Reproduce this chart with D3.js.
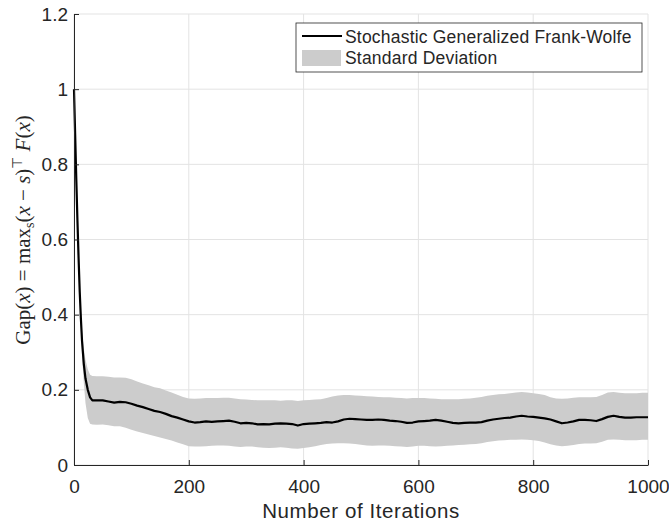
<!DOCTYPE html>
<html>
<head>
<meta charset="utf-8">
<script src="https://cdn.jsdelivr.net/npm/d3@7"></script>
<style>
  body { margin: 0; background: #fff; }
  svg { display: block; }
</style>
</head>
<body>
<svg width="669" height="525"></svg>
<script>
// iteration grid (denser at the start where the curve drops)
var iters = [0,2,4,6,8,10,12,14,17,20,24,28,32,40,50,60,70,80,90,100,
  110,120,130,140,150,160,170,180,190,200,210,220,230,240,250,260,270,280,290,300,
  310,320,330,340,350,360,370,380,390,400,410,420,430,440,450,460,470,480,490,500,
  510,520,530,540,550,560,570,580,590,600,610,620,630,640,650,660,670,680,690,700,
  710,720,730,740,750,760,770,780,790,800,810,820,830,840,850,860,870,880,890,900,
  910,920,930,940,950,960,970,980,990,1000];

var gapMean = [1.0,0.88,0.76,0.65,0.55,0.46,0.39,0.33,0.27,0.23,0.2,0.18,0.172,0.172,0.172,0.169,0.166,0.168,0.167,0.163,
  0.158,0.154,0.149,0.144,0.141,0.136,0.13,0.126,0.121,0.116,0.113,0.114,0.116,0.115,0.116,0.117,0.118,0.115,0.111,0.112,
  0.111,0.108,0.109,0.108,0.110,0.111,0.110,0.109,0.105,0.109,0.110,0.111,0.112,0.114,0.113,0.116,0.121,0.123,0.122,0.121,
  0.120,0.120,0.121,0.120,0.118,0.117,0.115,0.112,0.113,0.116,0.117,0.118,0.120,0.118,0.115,0.112,0.111,0.112,0.113,0.113,
  0.114,0.118,0.121,0.123,0.125,0.126,0.129,0.131,0.129,0.128,0.126,0.124,0.121,0.116,0.111,0.113,0.116,0.120,0.120,0.119,
  0.117,0.122,0.128,0.131,0.128,0.126,0.126,0.127,0.127,0.127];

var gapUpper = [1.0,0.885,0.77,0.665,0.57,0.48,0.42,0.36,0.31,0.28,0.255,0.24,0.237,0.236,0.236,0.235,0.233,0.233,0.232,0.228,
  0.222,0.217,0.212,0.207,0.204,0.198,0.193,0.187,0.181,0.177,0.176,0.177,0.178,0.178,0.178,0.179,0.179,0.177,0.175,0.174,
  0.173,0.172,0.172,0.172,0.172,0.171,0.172,0.172,0.170,0.172,0.173,0.174,0.175,0.178,0.182,0.185,0.186,0.186,0.185,0.184,
  0.183,0.182,0.181,0.180,0.180,0.179,0.178,0.177,0.178,0.178,0.178,0.177,0.176,0.175,0.175,0.175,0.175,0.176,0.177,0.179,
  0.181,0.184,0.186,0.188,0.189,0.191,0.193,0.194,0.193,0.191,0.189,0.186,0.180,0.177,0.176,0.177,0.179,0.180,0.180,0.180,
  0.181,0.186,0.193,0.194,0.192,0.191,0.191,0.191,0.192,0.192];

var gapLower = [1.0,0.875,0.75,0.635,0.53,0.44,0.36,0.29,0.22,0.165,0.125,0.11,0.108,0.107,0.108,0.106,0.103,0.103,0.099,0.094,
  0.089,0.085,0.081,0.077,0.073,0.069,0.065,0.06,0.055,0.05,0.049,0.049,0.05,0.051,0.052,0.052,0.051,0.049,0.048,0.049,
  0.049,0.047,0.046,0.045,0.046,0.047,0.046,0.044,0.043,0.045,0.047,0.050,0.053,0.056,0.057,0.058,0.058,0.057,0.056,0.054,
  0.052,0.051,0.052,0.052,0.051,0.050,0.049,0.048,0.049,0.051,0.051,0.050,0.049,0.050,0.051,0.052,0.053,0.054,0.055,0.056,
  0.058,0.061,0.063,0.065,0.066,0.067,0.067,0.068,0.067,0.066,0.064,0.060,0.055,0.052,0.050,0.051,0.053,0.056,0.057,0.057,
  0.058,0.062,0.067,0.068,0.067,0.066,0.066,0.066,0.067,0.067];

var xTicks = [0,200,400,600,800,1000];
var yTicks = [0,0.2,0.4,0.6,0.8,1,1.2];

var margin = {left: 74, right: 21, top: 14, bottom: 60};
var width = 669, height = 525;
var sans = "Liberation Sans, Arial, Helvetica, sans-serif";
var serif = "Liberation Serif, Times New Roman, serif";

var svg = d3.select("svg");

var x = d3.scaleLinear().domain([0,1000]).range([margin.left, width - margin.right]);
var y = d3.scaleLinear().domain([0,1.2]).range([height - margin.bottom, margin.top]);

var pts = iters.map(function(d, i) {
  return {it: d, m: gapMean[i], hi: gapUpper[i], lo: gapLower[i]};
});

// grid
var grid = svg.append("g");
grid.selectAll(".gx").data(xTicks).enter().append("line")
  .attr("x1", d => x(d)).attr("x2", d => x(d))
  .attr("y1", y(0)).attr("y2", y(1.2))
  .attr("stroke", "#e3e3e3").attr("stroke-width", 1);
grid.selectAll(".gy").data(yTicks).enter().append("line")
  .attr("y1", d => y(d)).attr("y2", d => y(d))
  .attr("x1", x(0)).attr("x2", x(1000))
  .attr("stroke", "#e3e3e3").attr("stroke-width", 1);

// std band
var band = d3.area()
  .x(d => x(d.it))
  .y0(d => y(d.lo))
  .y1(d => y(d.hi));
svg.append("path").datum(pts)
  .attr("d", band)
  .attr("fill", "#cccccc");

// mean line
var line = d3.line()
  .x(d => x(d.it))
  .y(d => y(d.m));
svg.append("path").datum(pts)
  .attr("d", line)
  .attr("fill", "none")
  .attr("stroke", "#000")
  .attr("stroke-width", 2.2)
  .attr("stroke-linejoin", "round");

// axes
var xAxis = svg.append("g")
  .attr("transform", "translate(0," + y(0) + ")")
  .call(d3.axisBottom(x).tickValues(xTicks).tickSizeInner(-5).tickSizeOuter(0).tickPadding(12).tickFormat(d3.format("d")));
var yAxis = svg.append("g")
  .attr("transform", "translate(" + x(0) + ",0)")
  .call(d3.axisLeft(y).tickValues(yTicks).tickSizeInner(-5).tickSizeOuter(0).tickPadding(6).tickFormat(d => d));

[xAxis, yAxis].forEach(function(a) {
  a.select(".domain").attr("stroke", "#262626").attr("stroke-width", 1);
  a.selectAll(".tick line").attr("stroke", "#262626");
  a.selectAll("text").attr("font-size", 19).attr("fill", "#262626")
    .attr("font-family", sans);
});
xAxis.selectAll("text").attr("dy", "0.85em");

// x label
svg.append("text")
  .attr("x", 361)
  .attr("y", 518)
  .attr("text-anchor", "middle")
  .attr("font-family", sans)
  .attr("font-size", 20.5)
  .attr("letter-spacing", 0.6)
  .attr("fill", "#262626")
  .text("Number of Iterations");

// y label (math-style)
var yl = svg.append("text")
  .attr("transform", "translate(30,230) rotate(-90)")
  .attr("text-anchor", "middle")
  .attr("font-family", serif)
  .attr("font-size", 21)
  .attr("fill", "#262626");
yl.append("tspan").text("Gap(");
yl.append("tspan").attr("font-style", "italic").text("x");
yl.append("tspan").text(") = max");
yl.append("tspan").attr("font-size", 14).attr("dy", 4).text("s");
yl.append("tspan").attr("dy", -4).text("(");
yl.append("tspan").attr("font-style", "italic").text("x");
yl.append("tspan").text(" − ");
yl.append("tspan").attr("font-style", "italic").text("s");
yl.append("tspan").text(")");
yl.append("tspan").attr("font-size", 14).attr("dy", -8).text("⊤");
yl.append("tspan").attr("dy", 8).text(" ");
yl.append("tspan").attr("font-style", "italic").text("F");
yl.append("tspan").text("(");
yl.append("tspan").attr("font-style", "italic").text("x");
yl.append("tspan").text(")");

// legend
var lg = svg.append("g").attr("transform", "translate(296,23)");
lg.append("rect").attr("width", 346).attr("height", 49)
  .attr("fill", "#fff").attr("stroke", "#262626").attr("stroke-width", 0.8);
lg.append("line").attr("x1", 6).attr("x2", 46).attr("y1", 13).attr("y2", 13)
  .attr("stroke", "#000").attr("stroke-width", 2.2);
lg.append("rect").attr("x", 6).attr("y", 27).attr("width", 39).attr("height", 16)
  .attr("fill", "#cccccc");
lg.append("text").attr("x", 49).attr("y", 19.5)
  .attr("font-family", sans).attr("font-size", 17.5).attr("letter-spacing", 0.2).attr("fill", "#262626")
  .text("Stochastic Generalized Frank-Wolfe");
lg.append("text").attr("x", 49).attr("y", 40.5)
  .attr("font-family", sans).attr("font-size", 17.5).attr("letter-spacing", 0.2).attr("fill", "#262626")
  .text("Standard Deviation");
</script>
</body>
</html>
